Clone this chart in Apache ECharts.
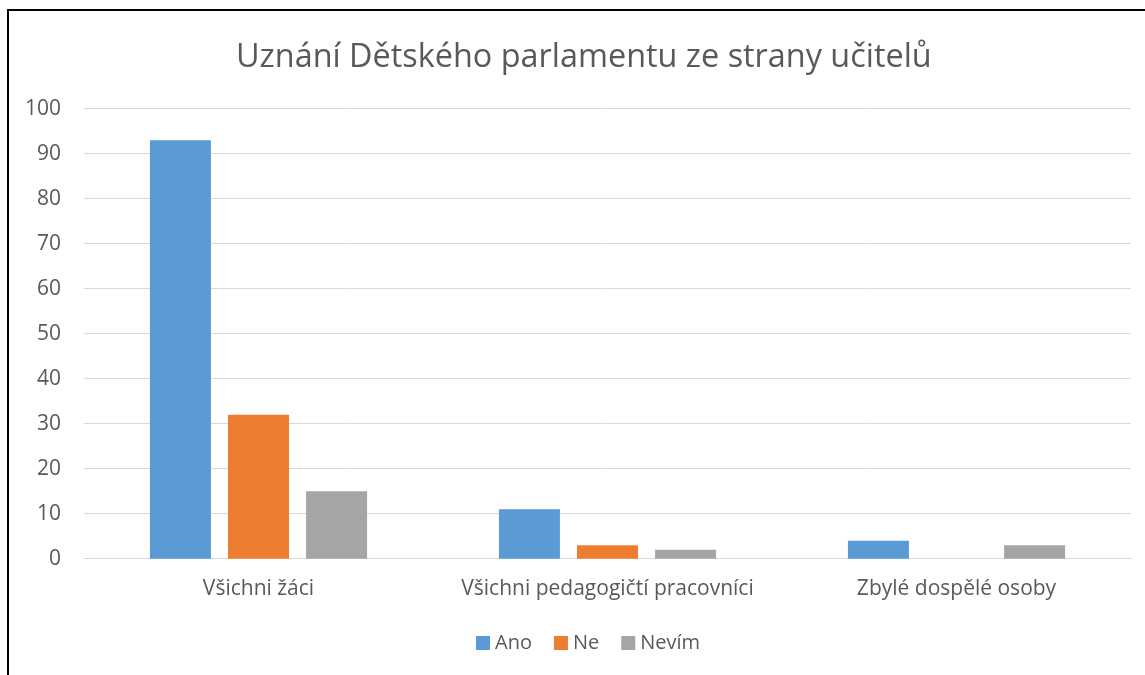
<!DOCTYPE html>
<html>
<head>
<meta charset="utf-8">
<script src="https://cdn.jsdelivr.net/npm/echarts@6/dist/echarts.min.js"></script>
<style>
  html, body { margin: 0; padding: 0; background: #fff; overflow: hidden; width: 1145px; height: 675px; }
  #frame { position: absolute; left: 7px; top: 9px; width: 1138px; height: 666px; border-left: 2px solid #000; border-top: 2px solid #000; box-sizing: border-box; }
  #eChart { position: absolute; left: 0; top: 0; width: 1145px; height: 675px; }
</style>
</head>
<body>
<div id="frame"></div>
<div id="eChart"></div>
<script>
// data
var categories = ['Všichni žáci', 'Všichni pedagogičtí pracovníci', 'Zbylé dospělé osoby'];
var seriesNames = ['Ano', 'Ne', 'Nevím'];
var ano = [93, 11, 4];
var ne = [32, 3, 0];
var nevim = [15, 2, 3];
var colors = ['#5B9BD5', '#ED7D31', '#A5A5A5'];

var font = '"Open Sans", sans-serif';
var myChart = echarts.init(document.getElementById('eChart'));

function bar(name, data, color) {
  return {
    name: name,
    type: 'bar',
    data: data,
    barWidth: 61,
    barGap: '28%',
    itemStyle: { color: color },
    emphasis: { disabled: true }
  };
}

var option = {
  animation: false,
  title: {
    text: 'Uznání Dětského parlamentu ze strany učitelů',
    left: 231,
    top: 37,
    textStyle: { fontFamily: font, fontSize: 32.4, fontWeight: 'normal', color: '#595959' }
  },
  legend: {
    data: seriesNames,
    bottom: 17,
    left: 471,
    itemWidth: 14,
    itemHeight: 14,
    itemGap: 22,
    icon: 'rect',
    textStyle: { fontFamily: font, fontSize: 20, color: '#595959', padding: [0, 0, 0, 0] }
  },
  grid: {
    left: 84,
    right: 14,
    top: 108.7,
    bottom: 116.3,
    containLabel: false
  },
  xAxis: {
    type: 'category',
    data: categories,
    axisLine: { lineStyle: { color: '#D9D9D9', width: 1 } },
    axisTick: { show: false },
    axisLabel: { interval: 0, fontFamily: font, fontSize: 21, color: '#595959', margin: 20 }
  },
  yAxis: {
    type: 'value',
    min: 0,
    max: 100,
    interval: 10,
    axisLine: { show: false },
    axisTick: { show: false },
    splitLine: { lineStyle: { color: '#D9D9D9', width: 1 } },
    axisLabel: { fontFamily: font, fontSize: 21, color: '#595959', margin: 23 }
  },
  series: [
    bar(seriesNames[0], ano, colors[0]),
    bar(seriesNames[1], ne, colors[1]),
    bar(seriesNames[2], nevim, colors[2])
  ]
};
myChart.setOption(option);
</script>
</body>
</html>
